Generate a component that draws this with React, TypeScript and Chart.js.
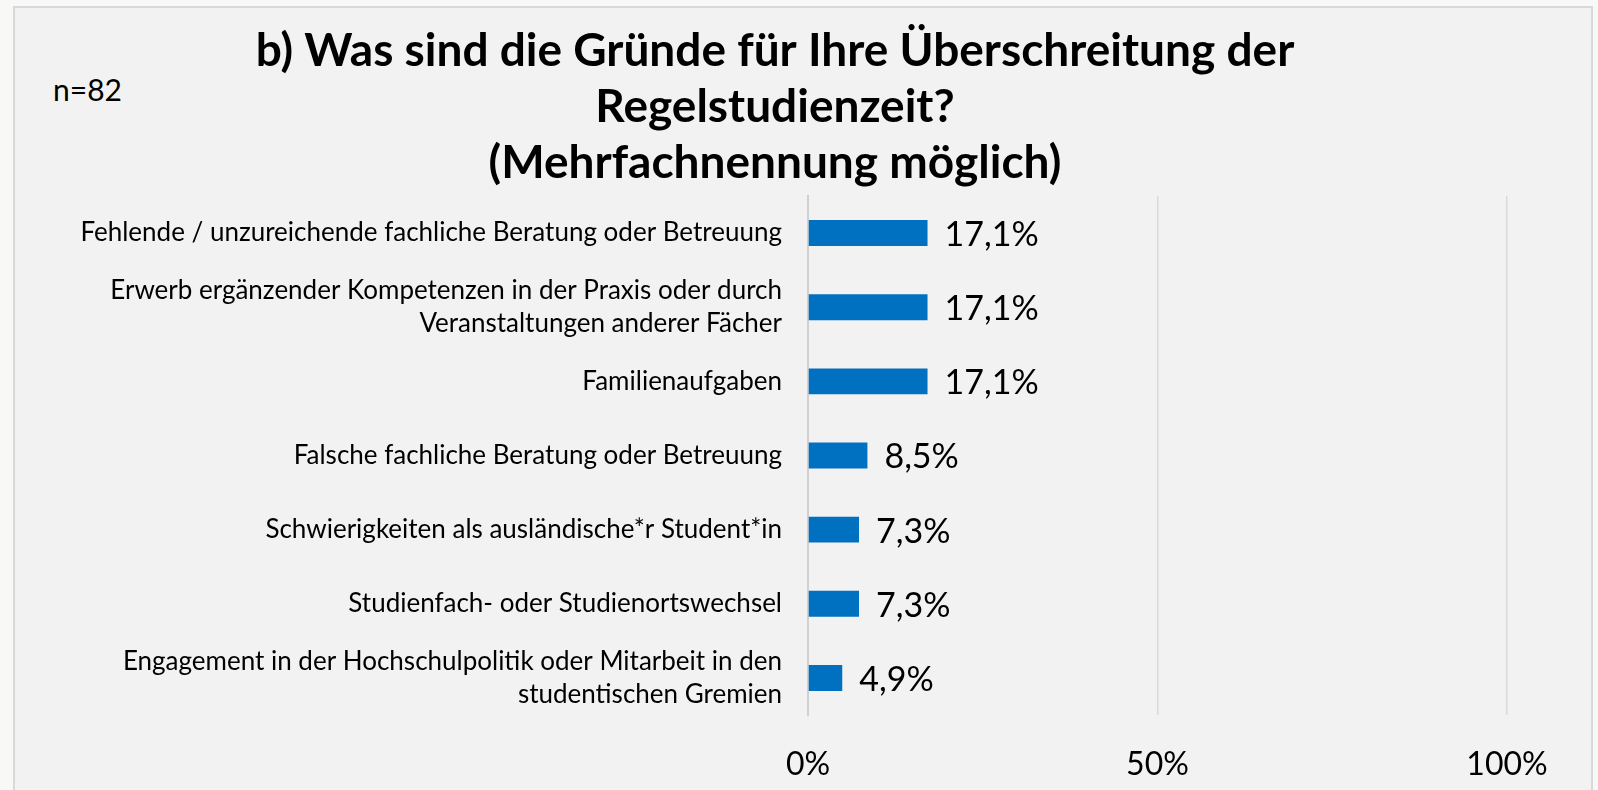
import React, { useEffect, useRef } from "react";
import { Chart, registerables } from "chart.js";

Chart.register(...registerables);

const titleLines = [
  "b) Was sind die Gründe für Ihre Überschreitung der",
  "Regelstudienzeit?",
  "(Mehrfachnennung möglich)",
];
const sampleNote = "n=82";
const categories: string[][] = [
  ["Fehlende / unzureichende fachliche Beratung oder Betreuung"],
  ["Erwerb ergänzender Kompetenzen in der Praxis oder durch", "Veranstaltungen anderer Fächer"],
  ["Familienaufgaben"],
  ["Falsche fachliche Beratung oder Betreuung"],
  ["Schwierigkeiten als ausländische*r Student*in"],
  ["Studienfach- oder Studienortswechsel"],
  ["Engagement in der Hochschulpolitik oder Mitarbeit in den", "studentischen Gremien"],
];
const values = [17.1, 17.1, 17.1, 8.5, 7.3, 7.3, 4.9];
const valueLabels = ["17,1%", "17,1%", "17,1%", "8,5%", "7,3%", "7,3%", "4,9%"];
const xTickValues = [0, 50, 100];
const xTickLabels = ["0%", "50%", "100%"];

const FONT = "Lato";

const dataLabelPlugin = {
  id: "dataLabels",
  afterDatasetsDraw(chart: any) {
    const ctx = chart.ctx;
    const meta = chart.getDatasetMeta(0);
    ctx.save();
    ctx.font = `34px ${FONT}`;
    ctx.fillStyle = "#000000";
    ctx.textAlign = "left";
    ctx.textBaseline = "middle";
    meta.data.forEach((bar: any, i: number) => {
      ctx.fillText(valueLabels[i], bar.x + 17, bar.y + 2);
    });
    ctx.restore();
  },
};

export default function App() {
  const canvasRef = useRef<HTMLCanvasElement | null>(null);

  useEffect(() => {
    document.body.style.margin = "0";
    const canvas = canvasRef.current;
    if (!canvas) return;
    const chart = new Chart(canvas, {
      type: "bar",
      data: {
        labels: categories,
        datasets: [
          {
            data: values,
            backgroundColor: "#0070c0",
            borderWidth: 0,
            categoryPercentage: 1,
            barPercentage: 0.35,
          },
        ],
      },
      options: {
        indexAxis: "y",
        animation: false,
        responsive: false,
        maintainAspectRatio: false,
        layout: { padding: { left: 43, right: 43, top: 0, bottom: 0 } },
        plugins: {
          legend: { display: false },
          tooltip: { enabled: false },
          title: {
            display: true,
            text: titleLines,
            color: "#000000",
            font: { family: FONT, size: 46, weight: "bold", lineHeight: 56 / 46 },
            padding: { top: 23, bottom: 5 },
          },
        },
        scales: {
          x: {
            type: "linear",
            min: 0,
            max: 100,
            afterBuildTicks(scale: any) {
              scale.ticks = xTickValues.map((v) => ({ value: v }));
            },
            afterFit(scale: any) {
              scale.height = 75;
              scale.paddingLeft = 0;
              scale.paddingRight = 0;
            },
            grid: { color: "#d9d9d9", lineWidth: 1.5, drawTicks: false },
            border: { display: false },
            ticks: {
              padding: 30,
              color: "#000000",
              font: { family: FONT, size: 32 },
              callback: (v: any) => xTickLabels[xTickValues.indexOf(Number(v))] ?? "",
            },
          },
          y: {
            afterFit(scale: any) {
              scale.width = 765;
              scale.paddingTop = 0;
              scale.paddingBottom = 0;
            },
            grid: { display: false, drawTicks: false },
            border: { display: true, color: "#d0d0d0", width: 2 },
            ticks: {
              padding: 26,
              color: "#000000",
              font: { family: FONT, size: 26, lineHeight: 1.25 },
            },
          },
        },
      },
      plugins: [dataLabelPlugin],
    });
    return () => chart.destroy();
  }, []);

  return (
    <div
      style={{
        position: "fixed",
        left: 0,
        top: 0,
        width: 1598,
        height: 790,
        background: "#f8f8f6",
        overflow: "hidden",
      }}
    >
      <div
        style={{
          position: "absolute",
          left: 13,
          top: 6,
          width: 1576,
          height: 800,
          background: "#f2f2f2",
          border: "2px solid #d9d9d9",
        }}
      />
      <div
        style={{
          position: "absolute",
          left: 53,
          top: 73,
          fontFamily: FONT,
          fontSize: 30,
          color: "#000",
          lineHeight: "32px",
        }}
      >
        {sampleNote}
      </div>
      <canvas
        ref={canvasRef}
        width={1550}
        height={790}
        style={{ position: "absolute", left: 0, top: 0, width: 1550, height: 790 }}
      />
    </div>
  );
}
